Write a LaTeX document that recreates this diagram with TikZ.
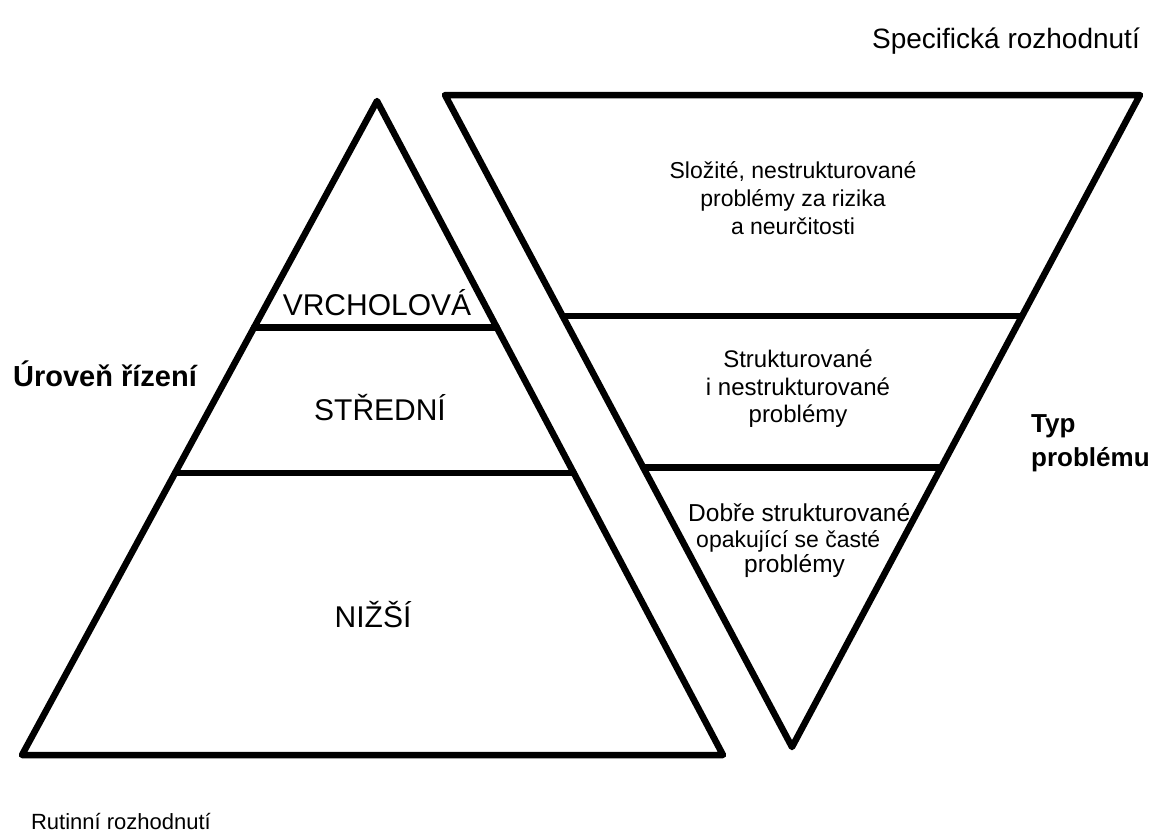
\documentclass[tikz,border=0pt]{standalone}
\usepackage{fontspec}
\setmainfont{Liberation Sans}
\usetikzlibrary{calc}
\begin{document}
\begin{tikzpicture}[x=1pt,y=-1pt,
  edge/.style={line width=6.5pt,line join=round,line cap=round},
  lvl/.style={inner sep=0pt,font=\fontsize{30}{34}\selectfont},
  ttl/.style={inner sep=0pt,font=\fontsize{29}{34}\selectfont\bfseries},
  prob/.style={inner sep=0pt,align=center}]
\useasboundingbox (0,0) rectangle (1155,838);
% left pyramid
\coordinate (LA) at (377,101);
\coordinate (LL) at (22,755);
\coordinate (LR) at (723,755);
\draw[edge] (LA) -- (LL) -- (LR) -- cycle;
\draw[edge] ($(LA)!0.3466!(LL)$) -- ($(LA)!0.3466!(LR)$);
\draw[edge] ($(LA)!0.569!(LL)$) -- ($(LA)!0.569!(LR)$);
% right inverted pyramid
\coordinate (RA) at (792,747);
\coordinate (RL) at (445,95);
\coordinate (RR) at (1140,95);
\draw[edge] (RA) -- (RL) -- (RR) -- cycle;
\draw[edge] ($(RL)!0.339!(RA)$) -- ($(RR)!0.339!(RA)$);
\draw[edge] ($(RL)!0.571!(RA)$) -- ($(RR)!0.571!(RA)$);
% labels
\node[inner sep=0pt,font=\fontsize{28}{32}\selectfont] (spec) at (1006,41) {Specifická rozhodnutí};
\node[inner sep=0pt,font=\fontsize{22}{26}\selectfont] (rut) at (121,821) {Rutinní rozhodnutí};
\node[ttl] (uroven) at (105,374) {Úroveň řízení};
\node[inner sep=0pt,align=left,anchor=west,font=\fontsize{26}{34}\selectfont\bfseries] (typ) at (1031,443) {Typ\\problému};
\node[lvl] (vrch) at (377,303) {VRCHOLOVÁ};
\node[lvl] (stred) at (380,408) {STŘEDNÍ};
\node[lvl] (nizsi) at (373,615) {NIŽŠÍ};
\node[prob,font=\fontsize{23}{28}\selectfont] (p1) at (793,198) {Složité, nestrukturované\\problémy za rizika\\ a neurčitosti};
\node[prob,font=\fontsize{24}{27.5}\selectfont] (p2) at (798,389) {Strukturované\\i nestrukturované\\problémy};
\node[prob,align=left,anchor=west,font=\fontsize{24.5}{25.5}\selectfont] (p3) at (688,541) {Dobře strukturované,\\\hspace*{8pt}{\fontsize{23}{25.5}\selectfont opakující se časté}\\\hspace*{56pt}problémy};
\end{tikzpicture}
\end{document}
